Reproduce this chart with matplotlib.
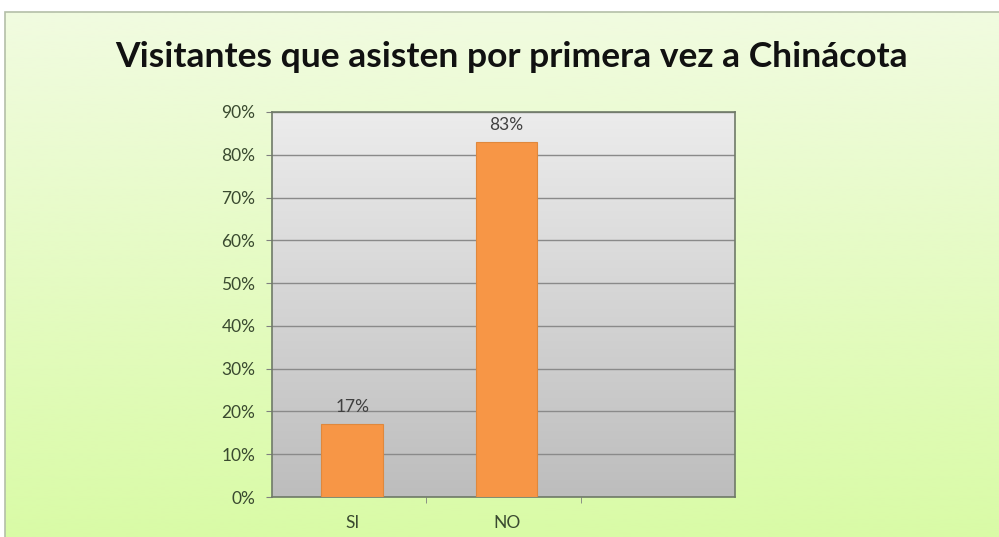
import numpy as np
import matplotlib.pyplot as plt
from matplotlib.patches import Rectangle
from matplotlib.colors import LinearSegmentedColormap
from matplotlib.ticker import PercentFormatter

title = 'Visitantes que asisten por primera vez a Chinácota'
categories = ['SI', 'NO', '']
values = [0.17, 0.83, 0]
labels = ['17%', '83%', '']

fig = plt.figure(figsize=(9.99, 5.37), dpi=100)
fig.patch.set_facecolor('white')

# green chart background with border
bg = fig.add_axes([0, 0, 1, 1], zorder=0)
bg.set_axis_off()
green = LinearSegmentedColormap.from_list('g', ['#f1fbe0', '#d9fba6'])
bg.imshow(np.linspace(0, 1, 256).reshape(-1, 1), cmap=green, aspect='auto',
          extent=[5 / 999, 1.01, -0.01, 1 - 12 / 537])
bg.add_patch(Rectangle((5 / 999, -0.01), 1, 1 - 12 / 537 + 0.01, fill=False,
                       edgecolor='#b4bfa8', lw=1.2))
bg.set_xlim(0, 1)
bg.set_ylim(0, 1)

fig.text(0.512, 0.893, title, ha='center', va='center', fontsize=25.5,
         fontweight='bold', family='Lato', color='#111111')

ax = fig.add_axes([272 / 999, 1 - 497 / 537, 463 / 999, 385 / 537], zorder=1)
x = np.arange(len(categories))
gray = LinearSegmentedColormap.from_list('k', ['#ececec', '#bdbdbd'])
ax.imshow(np.linspace(0, 1, 256).reshape(-1, 1), cmap=gray, aspect='auto',
          extent=[-0.5, 2.5, 0, 0.9], zorder=0)
ax.set_xlim(-0.5, 2.5)
ax.set_ylim(0, 0.9)
ax.set_yticks(np.arange(0, 0.91, 0.1))
ax.yaxis.set_major_formatter(PercentFormatter(1, decimals=0))
ax.grid(axis='y', color='#8a8a8a', lw=1, zorder=1)
ax.set_axisbelow(True)

ax.bar(x + 0.02, values, width=0.4, color='#f79646', edgecolor='#e0883c', lw=0.8, zorder=3)
for xi, v, lab in zip(x, values, labels):
    if lab:
        ax.text(xi + 0.02, v + 0.022, lab, ha='center', va='bottom', fontsize=12.5,
                color='#404040', family='Lato')

ax.set_xticks(x + 0.02)
ax.set_xticklabels(categories)
ax.set_xticks([0.5, 1.5], minor=True)
ax.tick_params(axis='x', which='major', length=0, pad=13)
ax.tick_params(axis='x', which='minor', length=4, color='#7f7f7f')
ax.tick_params(axis='y', length=4, color='#7f7f7f', pad=8)
for lab in ax.get_xticklabels() + ax.get_yticklabels():
    lab.set_family('Lato')
    lab.set_fontsize(12.5)
    lab.set_color('#3a4a30')
for s in ax.spines.values():
    s.set_color('#6f7a68')
    s.set_linewidth(1.2)

fig.savefig('out.png', dpi=100)
